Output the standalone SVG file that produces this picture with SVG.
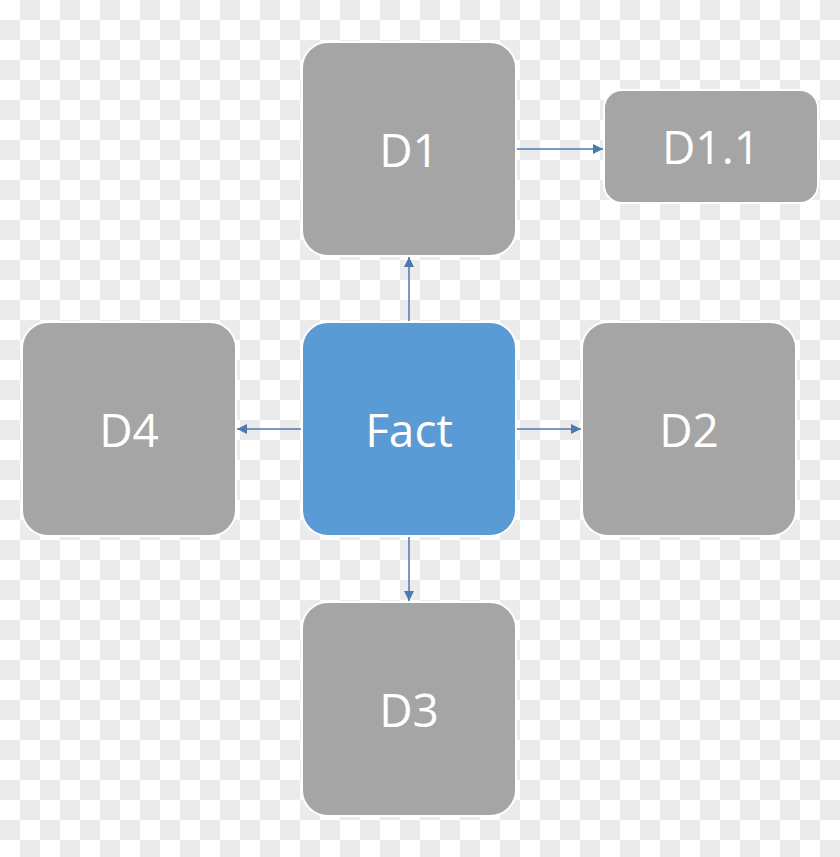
<svg xmlns="http://www.w3.org/2000/svg" width="840" height="857" viewBox="0 0 840 857">
<style>
.n{fill:#a5a5a5;stroke:#fff;stroke-width:2}
.f{fill:#5b9bd5;stroke:#fff;stroke-width:2}
.t{font-family:"Open Sans","Liberation Sans",sans-serif;font-size:46px;fill:#fff;text-anchor:middle;dominant-baseline:central}
.c{stroke:#4a7ab0;stroke-width:1.5;fill:none;marker-end:url(#a)}
</style>
<defs>
<pattern id="chk" width="40" height="40" patternUnits="userSpaceOnUse">
<rect width="40" height="40" fill="#fff"/>
<rect x="20" width="20" height="20" fill="#ebebeb"/>
<rect y="20" width="20" height="20" fill="#ebebeb"/>
</pattern>
<marker id="a" viewBox="0 0 10 10" refX="10" refY="5" markerWidth="10" markerHeight="10" markerUnits="userSpaceOnUse" orient="auto">
<path d="M0,0L10,5L0,10z" fill="#4a7ab0"/>
</marker>
</defs>
<rect width="840" height="857" fill="url(#chk)"/>
<g id="connectors">
<line class="c" x1="409" y1="322" x2="409" y2="257"/>
<line class="c" x1="516" y1="149" x2="603" y2="149"/>
<line class="c" x1="516" y1="429" x2="581" y2="429"/>
<line class="c" x1="409" y1="536" x2="409" y2="601"/>
<line class="c" x1="302" y1="429" x2="237" y2="429"/>
</g>
<g id="d1"><rect class="n" x="302" y="42" width="214" height="214" rx="26"/><text class="t" x="409" y="149">D1</text></g>
<g id="d11"><rect class="n" x="604" y="90" width="214" height="113" rx="18"/><text class="t" x="711" y="146">D1.1</text></g>
<g id="fact"><rect class="f" x="302" y="322" width="214" height="214" rx="26"/><text class="t" x="409" y="429">Fact</text></g>
<g id="d2"><rect class="n" x="582" y="322" width="214" height="214" rx="26"/><text class="t" x="689" y="429">D2</text></g>
<g id="d3"><rect class="n" x="302" y="602" width="214" height="214" rx="26"/><text class="t" x="409" y="709">D3</text></g>
<g id="d4"><rect class="n" x="22" y="322" width="214" height="214" rx="26"/><text class="t" x="129" y="429">D4</text></g>
</svg>
